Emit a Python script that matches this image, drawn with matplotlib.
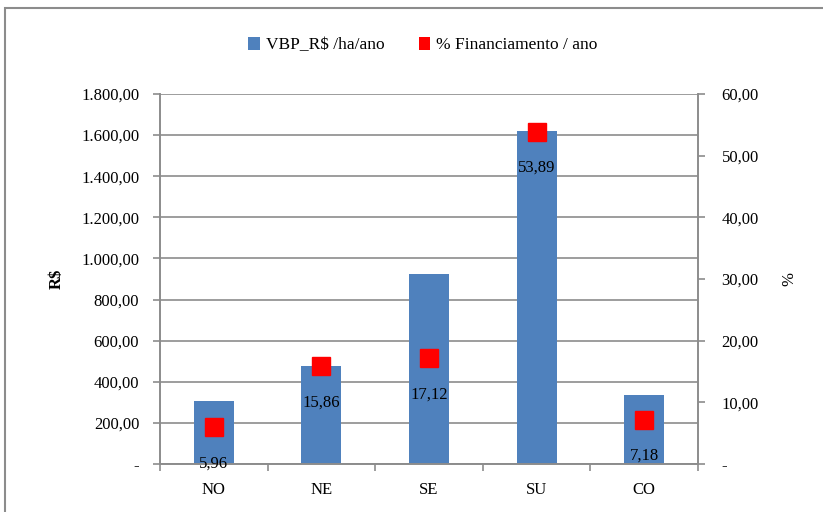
import matplotlib

matplotlib.use("Agg")
import matplotlib.pyplot as plt
from matplotlib.patches import Patch, Rectangle
from matplotlib.ticker import FuncFormatter

regioes = ["NO", "NE", "SE", "SU", "CO"]
vbp_ha_ano = [306, 477, 924, 1620, 336]
financiamento_pct = [5.96, 15.86, 17.12, 53.89, 7.18]

BAR_COLOR = "#4F81BD"
GRID_COLOR = "#8C8C8C"

plt.rcParams["font.family"] = ["Liberation Serif", "DejaVu Serif"]


def br_number(v, _pos=None):
    if abs(v) < 1e-9:
        return "-"
    s = f"{v:,.2f}"
    return s.replace(",", "X").replace(".", ",").replace("X", ".")


fig = plt.figure(figsize=(8.23, 5.12), dpi=100)
fig.patch.set_facecolor("white")
fig.patches.append(Rectangle((5 / 823, -0.01), 1.02, 1 - 8 / 512 + 0.01,
                             transform=fig.transFigure, fill=False,
                             edgecolor="#8C8C8C", linewidth=1.5))

ax = fig.add_axes([160 / 823, 48 / 512, 538 / 823, 370 / 512])
ax2 = ax.twinx()

x = range(len(regioes))
ax.bar(x, vbp_ha_ano, width=0.37, color=BAR_COLOR, zorder=2)
ax.set_ylim(0, 1800)
ax.set_yticks(range(0, 1801, 200))
ax.yaxis.set_major_formatter(FuncFormatter(br_number))
ax.set_xlim(-0.5, len(regioes) - 0.5)
ax.set_xticks(list(x))
ax.set_xticklabels(regioes, fontsize=12)
ax.set_xticks([i + 0.5 for i in range(-1, len(regioes))], minor=True)
ax.tick_params(axis="x", which="major", length=0, pad=13)
ax.tick_params(axis="x", which="minor", length=5, color=GRID_COLOR, width=1.2)
ax.tick_params(axis="y", length=5, color=GRID_COLOR, width=1.2, labelsize=12, pad=10)
ax.grid(axis="y", color=GRID_COLOR, linewidth=1.2, zorder=0)
ax.set_axisbelow(True)
ax.set_ylabel("R$", fontsize=12, fontweight="bold", labelpad=12)

ax2.plot(list(x), financiamento_pct, linestyle="none", marker="s",
         markersize=13.5, color="#FF0000", zorder=3)
ax2.set_ylim(0, 60)
ax2.set_yticks(range(0, 61, 10))
ax2.yaxis.set_major_formatter(FuncFormatter(br_number))
ax2.tick_params(axis="y", length=5, color=GRID_COLOR, width=1.2, labelsize=12, pad=12)
ax2.set_ylabel("%", fontsize=12, labelpad=16)

for i, v in enumerate(financiamento_pct):
    ax2.annotate(br_number(v), (i, v), xytext=(0, -26), textcoords="offset points",
                 ha="center", va="center", fontsize=12, zorder=4)

for a in (ax, ax2):
    a.spines["top"].set_visible(False)
    for side in ("left", "right", "bottom"):
        a.spines[side].set_color(GRID_COLOR)
        a.spines[side].set_linewidth(1.2)

handles = [Patch(facecolor=BAR_COLOR), Patch(facecolor="#FF0000")]
fig.legend(handles=handles, labels=["VBP_R$ /ha/ano", "% Financiamento / ano"],
           loc="center", bbox_to_anchor=(0.514, 1 - 45 / 512), ncol=2, frameon=False,
           fontsize=12.5, handlelength=0.65, handleheight=0.8, columnspacing=2.0,
           handletextpad=0.35)

fig.savefig("out.png", dpi=100)
